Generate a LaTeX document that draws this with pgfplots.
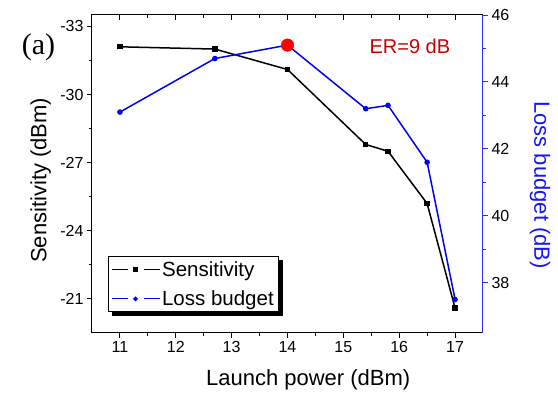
\documentclass[border=0pt]{standalone}
\usepackage{fontspec}
\setmainfont{Liberation Sans}
\newfontfamily\serifa{Liberation Serif}
\usepackage{pgfplots}
\pgfplotsset{compat=1.18}
\definecolor{lbblue}{RGB}{0,0,245}
\definecolor{axblue}{RGB}{45,45,255}
\definecolor{labblue}{RGB}{20,20,255}
\definecolor{erred}{RGB}{200,0,0}
\pgfplotsset{
  common/.style={
    scale only axis, width=391pt, height=318pt,
    xmin=10.5, xmax=17.5,
    major tick length=5pt, minor tick length=3pt,
    ticklabel style={font=\fontsize{16}{16}\selectfont},
    label style={font=\fontsize{22}{22}\selectfont},
  },
  sqlegend/.style={
    legend image code/.code={
      \draw[black, line width=1.1pt] (0pt,0pt) -- (16pt,0pt) (32pt,0pt) -- (48pt,0pt);
      \fill[black] (22.2pt,-1.8pt) rectangle (25.8pt,1.8pt);
    },
  },
  cirlegend/.style={
    legend image code/.code={
      \draw[lbblue, line width=1.1pt] (0pt,0pt) -- (16pt,0pt) (32pt,0pt) -- (48pt,0pt);
      \fill[lbblue] (24pt,0pt) circle (1.9pt);
    },
  },
}
\begin{document}
\begin{tikzpicture}
\useasboundingbox (-92pt,-62pt) rectangle (466pt,333pt);
% main (left, black) axis
\begin{axis}[common, clip=false,
  ymin=-33.5, ymax=-19.5, y dir=reverse,
  xtick={11,12,13,14,15,16,17}, xticklabels={11,12,13,14,15,16,17},
  minor x tick num=1,
  ytick={-33,-30,-27,-24,-21}, yticklabels={-33,-30,-27,-24,-21},
  minor y tick num=1,
  xtick pos=bottom, ytick pos=left, tick align=outside,
  axis line style={line width=1pt, black},
  every tick/.style={black, line width=0.9pt},
  xlabel={Launch power (dBm)}, ylabel={Sensitivity (dBm)},
  xlabel style={at={(axis description cs:0.553,-0.148)}, anchor=center},
  ylabel style={at={(axis description cs:-0.131,0.48)}, anchor=center},
  legend style={name=leg, at={(axis description cs:0.041,0.066)}, anchor=south west,
    draw=black, line width=0.9pt, fill=white,
    font=\fontsize{20.5}{20.5}\selectfont, row sep=9pt,
    inner xsep=2.5pt, inner ysep=2.5pt},
  legend cell align=left,
]
\addplot[black, line width=1.5pt, mark=square*, mark size=1.9pt, sqlegend]
  coordinates {(11,-32.1) (12.7,-32.0) (14,-31.1) (15.4,-27.8) (15.8,-27.5) (16.5,-25.2) (17,-20.6)};
\addlegendentry{Sensitivity}
\addlegendimage{cirlegend}
\addlegendentry{Loss budget}
\node[font=\serifa\fontsize{30}{30}\selectfont, anchor=center] at (axis description cs:-0.137,0.9) {(a)};
\end{axis}
% legend shadow strips
\fill[black] ([xshift=4pt]leg.south west) rectangle ([xshift=4pt,yshift=-4pt]leg.south east);
\fill[black] ([yshift=-4pt]leg.north east) rectangle ([xshift=4pt,yshift=-4pt]leg.south east);
% top axis with inward ticks
\begin{axis}[common,
  ymin=0, ymax=1,
  axis x line*=top, axis y line=none,
  xtick={11,12,13,14,15,16,17}, xticklabels={},
  minor x tick num=1, tick align=inside,
  axis line style={line width=1pt, black},
  every tick/.style={black, line width=0.9pt},
]
\end{axis}
% right (blue) axis
\begin{axis}[common,
  ymin=36.5, ymax=46,
  axis y line*=right, axis x line=none,
  ytick={38,40,42,44,46}, yticklabels={38,40,42,44,46},
  minor y tick num=1, tick align=outside,
  y axis line style={line width=1pt, axblue},
  every tick/.style={axblue, line width=0.9pt},
  ylabel={Loss budget (dB)},
  ylabel style={labblue, rotate=180, at={(axis description cs:1.146,0.465)}, anchor=center},
]
\addplot[lbblue, line width=1.5pt, mark=*, mark size=2pt]
  coordinates {(11,43.1) (12.7,44.7) (14,45.1) (15.4,43.2) (15.8,43.3) (16.5,41.6) (17,37.5)};
\addplot[red, only marks, mark=*, mark size=6.3pt] coordinates {(14,45.1)};
\node[erred, font=\fontsize{20}{20}\selectfont, anchor=center] at (axis description cs:0.813,0.9) {ER=9 dB};
\end{axis}
\end{tikzpicture}
\end{document}
